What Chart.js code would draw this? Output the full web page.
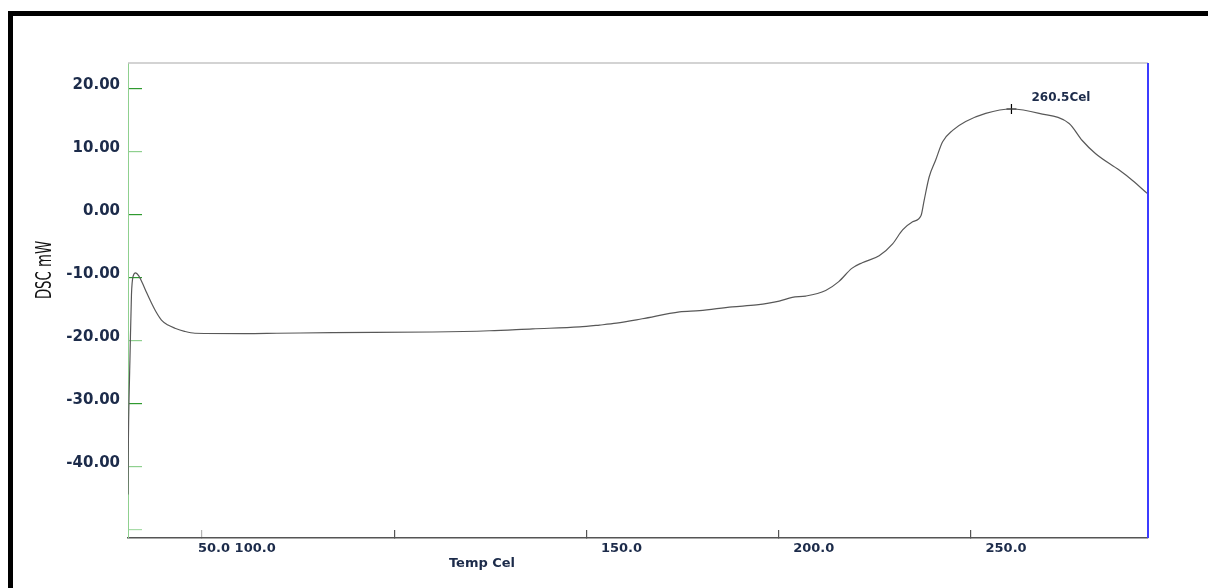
<!DOCTYPE html>
<html>
<head>
<meta charset="utf-8">
<title>DSC</title>
<script src="https://cdn.jsdelivr.net/npm/chart.js@4.4.1/dist/chart.umd.min.js"></script>
<style>
  html, body { margin: 0; padding: 0; background: #fff; }
  canvas { display: block; }
</style>
</head>
<body>
<canvas id="dsc" width="1208" height="588"></canvas>
<script>
// ── DSC heating curve ──────────────────────────────────────────────
const temps = [30.8, 30.9, 31.1, 31.3, 31.7, 32.1, 32.8, 33.6, 34.6, 35.6, 36.9, 38.0, 39.5, 41.2, 43.0, 45.5, 48.2,
  61.2, 69.5, 84.0, 110.0, 124.8, 136.0, 148.2, 153.4, 157.8, 164.5, 174.2, 179.4, 187.9,
  194.2, 200.1, 203.5, 207.0, 212.2, 215.6, 219.0, 221.7, 226.1, 229.6, 232.2, 234.8, 237.0,
  237.8, 239.1, 240.8, 242.6, 245.2, 248.6, 253.8, 260.5, 267.7, 275.5, 278.9, 282.4, 288.5,
  291.9, 295.8];
const dscMw = [-44.5, -36.0, -28.4, -23.2, -12.8, -9.9, -9.3, -9.8, -11.0, -12.4, -14.1, -15.4, -16.8, -17.6, -18.1, -18.6, -18.9,
  -18.95, -18.9, -18.8, -18.7, -18.5, -18.2, -17.9, -17.6, -17.3, -16.6, -15.5, -15.3, -14.7,
  -14.4, -13.8, -13.2, -13.0, -12.1, -10.7, -8.6, -7.7, -6.6, -4.7, -2.5, -1.2, -0.2,
  2.2, 5.9, 8.6, 11.5, 13.3, 14.7, 16.0, 16.7, 16.0, 14.4, 11.7, 9.6, 7.0,
  5.4, 3.3];

const peakTemp = 260.5;
const peakDsc = 16.7;

const xTicks = [50, 100, 150, 200, 250];
const xTickLabels = ['50.0 100.0', '', '150.0', '200.0', '250.0'];
const yTicks = [20, 10, 0, -10, -20, -30, -40, -50];
const yTickLabels = ['20.00', '10.00', '0.00', '-10.00', '-20.00', '-30.00', '-40.00', ''];
const yTickColors = ['#2f9a2f', '#8fd08f', '#2f9a2f', '#2f9a2f', '#8fd08f', '#2f9a2f', '#8fd08f', '#a8dca8'];

const NAVY = '#1c2b4a';

const framePlugin = {
  id: 'frame',
  beforeDraw(chart) {
    const { ctx, width, height } = chart;
    ctx.save();
    ctx.fillStyle = '#fff';
    ctx.fillRect(0, 0, width, height);
    // heavy black border on top and left edge
    ctx.fillStyle = '#000';
    ctx.fillRect(8, 11, width - 8, 5);
    ctx.fillRect(8, 11, 5, height - 11);
    ctx.restore();
  },
  afterDraw(chart) {
    const { ctx, chartArea: a } = chart;
    ctx.save();
    ctx.lineWidth = 1.5;
    ctx.strokeStyle = '#c4c4c4';
    ctx.beginPath(); ctx.moveTo(a.left, a.top); ctx.lineTo(a.right, a.top); ctx.stroke();
    ctx.lineWidth = 2;
    ctx.strokeStyle = '#3c3cff';
    ctx.beginPath(); ctx.moveTo(a.right, a.top); ctx.lineTo(a.right, a.bottom); ctx.stroke();

    // axis titles (narrow, tall lettering on the y title)
    ctx.fillStyle = '#111';
    ctx.font = "18px 'Liberation Sans Narrow', 'DejaVu Sans Condensed', sans-serif";
    ctx.textAlign = 'center';
    ctx.textBaseline = 'middle';
    ctx.translate(46, 270);
    ctx.rotate(-Math.PI / 2);
    ctx.scale(0.82, 1.15);
    ctx.fillText('DSC mW', 0, 0);
    ctx.restore();

    ctx.save();
    ctx.fillStyle = NAVY;
    ctx.font = "bold 13px 'DejaVu Sans', sans-serif";
    ctx.textAlign = 'center';
    ctx.textBaseline = 'middle';
    ctx.fillText('Temp Cel', 482, 564);

    // peak annotation
    const pt = chart.getDatasetMeta(1).data[0];
    ctx.font = "bold 12px 'DejaVu Sans', sans-serif";
    ctx.textAlign = 'left';
    ctx.fillText(peakTemp.toFixed(1) + 'Cel', pt.x + 20, pt.y - 11);
    ctx.restore();
  }
};

new Chart(document.getElementById('dsc'), {
  type: 'line',
  data: {
    datasets: [
      {
        data: temps.map((t, i) => ({ x: t, y: dscMw[i] })),
        borderColor: '#585858',
        borderWidth: 1.2,
        pointRadius: 0,
        cubicInterpolationMode: 'monotone',
        fill: false,
      },
      {
        data: [{ x: peakTemp, y: peakDsc }],
        showLine: false,
        pointStyle: 'cross',
        pointRadius: 5,
        borderColor: '#000',
        borderWidth: 1.2,
      },
    ],
  },
  options: {
    responsive: false,
    animation: false,
    layout: { padding: { left: 0, top: 63, right: 60, bottom: 0 } },
    plugins: { legend: { display: false }, tooltip: { enabled: false } },
    scales: {
      x: {
        type: 'linear',
        min: 30.8,
        max: 296,
        afterFit: s => { s.height = 50; },
        afterBuildTicks: s => { s.ticks = xTicks.map(v => ({ value: v })); },
        grid: {
          drawOnChartArea: false,
          tickLength: -8,
          color: c => (c.tick && c.tick.value === 50 ? '#b4b4b4' : '#555'),
          lineWidth: 1.2,
        },
        border: { display: true, color: '#555', width: 1.5 },
        ticks: {
          padding: 11,
          labelOffset: 35,
          maxRotation: 0,
          autoSkip: false,
          color: NAVY,
          font: { family: 'DejaVu Sans', size: 13, weight: 'bold' },
          callback: (v, i) => xTickLabels[i],
        },
      },
      y: {
        min: -51.4,
        max: 24,
        afterFit: s => { s.width = 128; },
        afterBuildTicks: s => { s.ticks = yTicks.map(v => ({ value: v })); },
        grid: {
          drawOnChartArea: false,
          tickLength: -14,
          color: c => yTickColors[c.index] || '#8fd08f',
          lineWidth: 1.2,
        },
        border: { display: true, color: '#8fd08f', width: 1 },
        ticks: {
          padding: 22,
          labelOffset: -3,
          autoSkip: false,
          color: NAVY,
          font: { family: 'DejaVu Sans', size: 15, weight: 'bold' },
          callback: (v, i) => yTickLabels[i],
        },
      },
    },
  },
  plugins: [framePlugin],
});
</script>
</body>
</html>
